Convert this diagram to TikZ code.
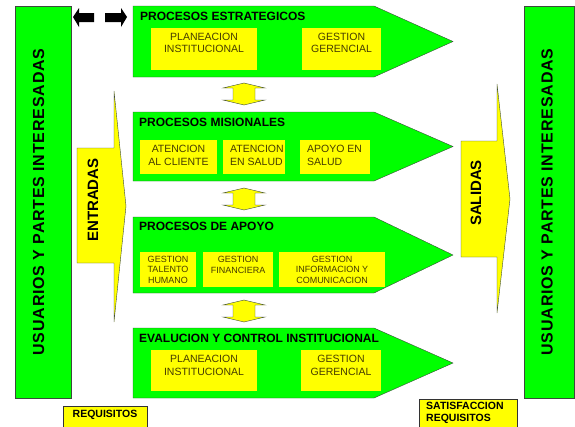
\documentclass[tikz,border=0pt]{standalone}
\usepackage{fontspec}
\setmainfont{Liberation Sans}
\newfontfamily\widesans[LetterSpace=5]{Liberation Sans}
\definecolor{procgreen}{RGB}{0,255,0}
\definecolor{boxyellow}{RGB}{255,255,0}
\definecolor{edgegray}{RGB}{60,75,60}
\definecolor{boxtext}{RGB}{70,60,0}

\begin{document}
\begin{tikzpicture}
    [x=1pt, y=-1pt,
     proc/.style={fill=procgreen, draw=edgegray, thin},
     inbox/.style={fill=boxyellow},
     intext/.style={text=boxtext, align=center, inner sep=0, font=\fontsize{10.5}{12.3}\selectfont},
     smalltext/.style={intext, font=\fontsize{9}{10.4}\selectfont},
     proctitle/.style={anchor=west, inner sep=0, font=\fontsize{12}{14}\selectfont\bfseries},
     flow/.style={fill=boxyellow, draw=edgegray, thin},
     notebox/.style={fill=boxyellow, draw=black!80, thin},
     bigtext/.style={rotate=90, inner sep=0, font=\widesans\fontsize{16}{18}\selectfont\bfseries}]
    \useasboundingbox (0,0) rectangle (575,426);
    % usuarios a ambos lados
    \draw[proc] (15,6) rectangle (71,398);
    \draw[proc] (524,6) rectangle (574,398);
    \node[bigtext] (usrIn) at (38.5,202) {USUARIOS Y PARTES INTERESADAS};
    \node[bigtext] (usrOut) at (547,202) {USUARIOS Y PARTES INTERESADAS};
    % flechas negras
    \fill[black] (73,17) -- (79,8) -- (79,13) -- (94,13) -- (94,22) -- (79,22) -- (79,27) -- cycle;
    \fill[black] (127,17) -- (121,8) -- (121,13) -- (105,13) -- (105,22) -- (121,22) -- (121,27) -- cycle;
    % procesos
    \foreach \ytop/\ybot in {6/77, 112/181, 217/293, 328/398}
        \draw[proc] (133,\ytop) -- (374,\ytop) -- (453,{(\ytop+\ybot)/2}) -- (374,\ybot) -- (133,\ybot) -- cycle;
    \node[proctitle] (tEstrat) at (140,16) {PROCESOS ESTRATEGICOS};
    \node[proctitle] (tMision) at (139,122) {PROCESOS MISIONALES};
    \node[proctitle] (tApoyo) at (139,226) {PROCESOS DE APOYO};
    \node[proctitle] (tEval) at (139,338) {EVALUCION Y CONTROL INSTITUCIONAL};
    % estrategicos
    \fill[inbox] (151,28) rectangle (257,70);
    \fill[inbox] (302,28) rectangle (381,70);
    \node[intext] (planA) at (204,43) {PLANEACION\\INSTITUCIONAL};
    \node[intext] (gerA) at (341.5,43) {GESTION\\GERENCIAL};
    % misionales
    \fill[inbox] (140,140) rectangle (217,174);
    \fill[inbox] (223,140) rectangle (285,174);
    \fill[inbox] (300,140) rectangle (370,174);
    \node[intext] (atCli) at (178.5,155.5) {ATENCION\\AL CLIENTE};
    \node[intext, align=left, anchor=west] (atSal) at (230,155.5) {ATENCION\\EN SALUD};
    \node[intext, align=left, anchor=west] (apSal) at (307,155.5) {APOYO EN\\SALUD};
    % apoyo
    \fill[inbox] (140,252) rectangle (196,287);
    \fill[inbox] (203,252) rectangle (273,287);
    \fill[inbox] (279,252) rectangle (385,287);
    \node[smalltext] (gTal) at (168,269.5) {GESTION\\TALENTO\\HUMANO};
    \node[smalltext] (gFin) at (238,265) {GESTION\\FINANCIERA};
    \node[smalltext] (gInf) at (332,269.5) {GESTION\\INFORMACION Y\\COMUNICACION};
    % evaluacion
    \fill[inbox] (151,350) rectangle (257,391);
    \fill[inbox] (301,350) rectangle (381,391);
    \node[intext] (planB) at (204,365.5) {PLANEACION\\INSTITUCIONAL};
    \node[intext] (gerB) at (341,365.5) {GESTION\\GERENCIAL};
    % flechas entre procesos
    \foreach \ya/\yb in {83/105, 188/210, 300/322}
        \draw[flow] (244,\ya) -- (265,{\ya+5}) -- (255,{\ya+5}) -- (255,{\yb-5}) -- (265,{\yb-5})
            -- (244,\yb) -- (223,{\yb-5}) -- (233,{\yb-5}) -- (233,{\ya+5}) -- (223,{\ya+5}) -- cycle;
    % entradas y salidas
    \draw[flow] (77,148) -- (114,148) -- (114,91) -- (126,206) -- (114,322) -- (114,263) -- (77,263) -- cycle;
    \node[rotate=90, inner sep=0, font=\fontsize{15}{17}\selectfont\bfseries] (entr) at (93,200) {ENTRADAS};
    \draw[flow] (461,141) -- (497,141) -- (497,84) -- (510,199) -- (497,313) -- (497,257) -- (461,257) -- cycle;
    \node[rotate=90, inner sep=0, font=\fontsize{15}{17}\selectfont\bfseries] (sal) at (476,193) {SALIDAS};
    % requisitos
    \draw[notebox] (63,406) rectangle (147,432);
    \node[inner sep=0, font=\fontsize{10.5}{12}\selectfont\bfseries] (req) at (105,415) {REQUISITOS};
    \draw[notebox] (419,399) rectangle (517,432);
    \node[inner sep=0, anchor=west, align=left, font=\fontsize{10.5}{12}\selectfont\bfseries] (satis) at (426,413) {SATISFACCION\\REQUISITOS};
\end{tikzpicture}
\end{document}
